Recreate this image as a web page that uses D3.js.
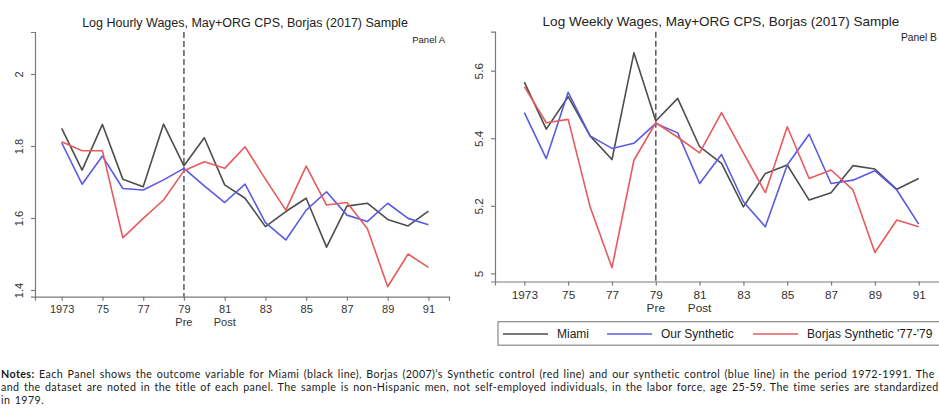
<!DOCTYPE html>
<html>
<head>
<meta charset="utf-8">
<script src="https://cdn.jsdelivr.net/npm/d3@7"></script>
<style>
  body { margin: 0; background: #fff; }
  svg { display: block; }
</style>
</head>
<body>
<svg id="chart" width="939" height="413"></svg>
<script>
// years shown on both panels
let years = [1973, 1974, 1975, 1976, 1977, 1978, 1979, 1980, 1981, 1982,
             1983, 1984, 1985, 1986, 1987, 1988, 1989, 1990, 1991];
let tickYears = [1973, 1975, 1977, 1979, 1981, 1983, 1985, 1987, 1989, 1991];
let tickLabels = ["1973", "75", "77", "79", "81", "83", "85", "87", "89", "91"];

// Panel A: log hourly wages
let hourlyMiami  = [1.849, 1.733, 1.860, 1.708, 1.687, 1.861, 1.745, 1.823, 1.692, 1.655,
                    1.576, 1.618, 1.655, 1.519, 1.633, 1.641, 1.596, 1.578, 1.619];
let hourlyOurs   = [1.809, 1.694, 1.772, 1.682, 1.678, 1.706, 1.738, 1.689, 1.643, 1.694,
                    1.587, 1.539, 1.622, 1.673, 1.608, 1.590, 1.641, 1.599, 1.581];
let hourlyBorjas = [1.812, 1.787, 1.787, 1.545, 1.599, 1.650, 1.731, 1.756, 1.738, 1.798,
                    1.708, 1.622, 1.744, 1.636, 1.643, 1.571, 1.409, 1.500, 1.463];
let hourlyTicks = [1.4, 1.6, 1.8, 2];

// Panel B: log weekly wages
let weeklyMiami  = [5.566, 5.427, 5.523, 5.407, 5.337, 5.653, 5.451, 5.518, 5.375, 5.326,
                    5.197, 5.296, 5.321, 5.217, 5.239, 5.319, 5.309, 5.249, 5.281];
let weeklyOurs   = [5.476, 5.340, 5.536, 5.407, 5.370, 5.385, 5.444, 5.416, 5.266, 5.352,
                    5.212, 5.138, 5.321, 5.412, 5.266, 5.276, 5.304, 5.247, 5.146];
let weeklyBorjas = [5.553, 5.446, 5.456, 5.197, 5.017, 5.335, 5.446, 5.403, 5.357, 5.476,
                    5.357, 5.239, 5.434, 5.281, 5.306, 5.247, 5.062, 5.158, 5.138];
let weeklyTicks = [5, 5.2, 5.4, 5.6];

let seriesNames = ["Miami", "Our Synthetic", "Borjas Synthetic '77-'79"];
let colors = ["#4d4d4d", "#5a5ae4", "#e85a5e"];

let svg = d3.select("#chart");
let font = "'Liberation Sans', Arial, sans-serif";

function panel(opt) {
    let x = d3.scaleLinear().domain(opt.xDomain).range(opt.xRange);
    let y = d3.scaleLinear().domain(opt.yDomain).range(opt.yRange);
    let g = svg.append("g");

    // title
    g.append("text")
        .attr("x", opt.titleX)
        .attr("y", opt.titleY)
        .attr("text-anchor", "middle")
        .style("font-family", font)
        .style("font-size", opt.titleSize + "px")
        .style("fill", "#222")
        .text(opt.title);

    g.append("text")
        .attr("x", opt.panelX)
        .attr("y", opt.panelY)
        .attr("text-anchor", "end")
        .style("font-family", font)
        .style("font-size", opt.panelSize + "px")
        .style("fill", "#222")
        .text(opt.panelName);

    // x axis
    let xAxis = g.append("g")
        .attr("transform", "translate(0," + opt.yRange[0] + ")")
        .call(d3.axisBottom(x)
            .tickValues(tickYears)
            .tickFormat((d, i) => tickLabels[i])
            .tickSize(4)
            .tickPadding(5));
    xAxis.selectAll("text")
        .style("font-family", font)
        .style("font-size", opt.tickSize + "px")
        .style("fill", "#333");

    // Pre / Post under 79 and 81
    g.append("text")
        .attr("x", x(1979)).attr("y", opt.yRange[0] + opt.prePostDy)
        .attr("text-anchor", "middle")
        .style("font-family", font).style("font-size", opt.tickSize + "px")
        .style("fill", "#333")
        .text("Pre");
    g.append("text")
        .attr("x", x(1981)).attr("y", opt.yRange[0] + opt.prePostDy)
        .attr("text-anchor", "middle")
        .style("font-family", font).style("font-size", opt.tickSize + "px")
        .style("fill", "#333")
        .text("Post");

    // y axis with rotated labels
    let yAxis = g.append("g")
        .attr("transform", "translate(" + opt.xRange[0] + ",0)")
        .call(d3.axisLeft(y)
            .tickValues(opt.yTicks)
            .tickFormat(d3.format("~g"))
            .tickSize(4));
    yAxis.selectAll(".tick text")
        .attr("transform", "rotate(-90)")
        .attr("x", 0)
        .attr("y", -12)
        .attr("dy", 0)
        .attr("text-anchor", "middle")
        .style("font-family", font)
        .style("font-size", opt.tickSize + "px")
        .style("fill", "#333");

    g.selectAll(".domain, .tick line")
        .attr("stroke", "#7a7a7a")
        .attr("stroke-width", 1.2);

    // dashed line at 1979
    g.append("line")
        .attr("x1", x(1979)).attr("x2", x(1979))
        .attr("y1", opt.yRange[1]).attr("y2", opt.yRange[0])
        .attr("stroke", "#5a5a5a")
        .attr("stroke-width", 1.5)
        .attr("stroke-dasharray", "6,3");

    let line = d3.line()
        .x((d, i) => x(years[i]))
        .y(d => y(d));

    opt.series.forEach((s, k) => {
        g.append("path")
            .datum(s)
            .attr("d", line)
            .attr("fill", "none")
            .attr("stroke", colors[k])
            .attr("stroke-width", 1.6)
            .attr("stroke-linejoin", "round");
    });
}

panel({
    title: "Log Hourly Wages, May+ORG CPS, Borjas (2017) Sample",
    titleX: 245, titleY: 27, titleSize: 12.5,
    panelName: "Panel A", panelX: 445, panelY: 43, panelSize: 9.5,
    xDomain: [1971.69, 1992.01], xRange: [35, 449],
    yDomain: [1.3814, 2.1167], yRange: [296.7, 32],
    yTicks: hourlyTicks, tickSize: 11, prePostDy: 29,
    series: [hourlyMiami, hourlyOurs, hourlyBorjas]
});

panel({
    title: "Log Weekly Wages, May+ORG CPS, Borjas (2017) Sample",
    titleX: 721, titleY: 26, titleSize: 13.5,
    panelName: "Panel B", panelX: 937, panelY: 41, panelSize: 10.3,
    xDomain: [1971.66, 1992.0], xRange: [495, 940.6],
    yDomain: [4.976, 5.7155], yRange: [281.5, 31.7],
    yTicks: weeklyTicks, tickSize: 11.8, prePostDy: 30,
    series: [weeklyMiami, weeklyOurs, weeklyBorjas]
});

// legend for panel B
let legend = svg.append("g");
legend.append("rect")
    .attr("x", 498).attr("y", 321.7)
    .attr("width", 470).attr("height", 23.5)
    .attr("fill", "none")
    .attr("stroke", "#8a8a8a")
    .attr("stroke-width", 1.2);
let legendX = [503, 607, 753];
seriesNames.forEach((name, k) => {
    legend.append("line")
        .attr("x1", legendX[k]).attr("x2", legendX[k] + 45)
        .attr("y1", 334).attr("y2", 334)
        .attr("stroke", colors[k]).attr("stroke-width", 1.6);
    legend.append("text")
        .attr("x", legendX[k] + 54).attr("y", 338.3)
        .style("font-family", font).style("font-size", "12px")
        .style("fill", "#222")
        .text(name);
});

// notes under the panels (the page cuts the lines at the right edge)
let notes = [
    "Each Panel shows the outcome variable for Miami (black line), Borjas (2007)\u2019s Synthetic control (red line) and our synthetic control (blue line) in the period 1972-1991. The",
    "and the dataset are noted in the title of each panel. The sample is non-Hispanic men, not self-employed individuals, in the labor force, age 25-59. The time series are standardized",
    "in 1979."
];
let noteFont = "Lato, 'Open Sans', sans-serif";
let baselines = [378.3, 391.1, 403.9];
notes.forEach((t, i) => {
    let txt = svg.append("text")
        .attr("x", 1).attr("y", baselines[i])
        .style("font-family", noteFont)
        .style("font-size", "10.7px")
        .style("letter-spacing", "0.4px")
        .style("word-spacing", "1.3px")
        .style("fill", "#1a1a1a");
    if (i === 0) {
        txt.append("tspan").style("font-weight", "bold").text("Notes:");
        txt.append("tspan").text(" " + t);
    } else {
        txt.text(t);
    }
});
</script>
</body>
</html>
